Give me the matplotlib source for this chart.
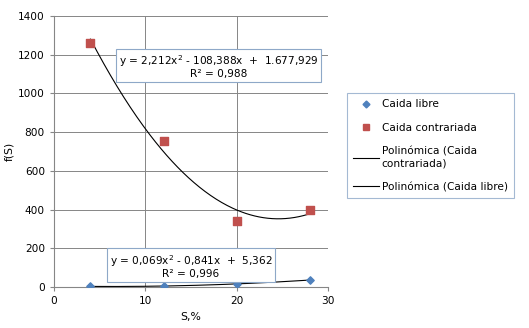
import numpy as np
import matplotlib
matplotlib.use('Agg')
import matplotlib.pyplot as plt
from matplotlib.lines import Line2D

# datos
s = [4, 12, 20, 28]
caida_libre = [3, 5, 16, 36]
caida_contrariada = [1262, 755, 342, 397]
eq_libre = 'y = 0,069x$^{2}$ - 0,841x  +  5,362\nR² = 0,996'
eq_contrariada = 'y = 2,212x$^{2}$ - 108,388x  +  1.677,929\nR² = 0,988'

azul = '#4F81BD'
rojo = '#C0504D'
gris = '#868686'

plt.rcParams['font.family'] = ['DejaVu Sans']
plt.rcParams['font.size'] = 7.6

fig = plt.figure(figsize=(5.29, 3.28), dpi=100)
ax = fig.add_axes([0.102, 0.125, 0.518, 0.826])

# líneas de tendencia polinómicas (grado 2)
xs = np.linspace(min(s), max(s), 200)
p_c = np.polyfit(s, caida_contrariada, 2)
p_l = np.polyfit(s, caida_libre, 2)
ax.plot(xs, np.polyval(p_c, xs), color='black', lw=0.8, zorder=2)
ax.plot(xs, np.polyval(p_l, xs), color='black', lw=0.8, zorder=2)

# puntos
ax.scatter(s, caida_libre, marker='D', s=14, color=azul, zorder=3)
ax.scatter(s, caida_contrariada, marker='s', s=38, color=rojo, zorder=3)

ax.set_xlim(0, 30)
ax.set_ylim(0, 1400)
ax.set_xticks([0, 10, 20, 30])
ax.set_yticks(range(0, 1401, 200))
ax.grid(True, color=gris, lw=0.7)
ax.set_axisbelow(True)
for sp in ['top', 'right']:
    ax.spines[sp].set_visible(False)
for sp in ['left', 'bottom']:
    ax.spines[sp].set_color(gris)
ax.tick_params(length=3, color=gris, labelsize=7.6)
ax.set_xlabel('S,%', fontsize=7.8, labelpad=4)
ax.set_ylabel('f(S)', fontsize=7.8, labelpad=3)

# ecuaciones
caja = dict(boxstyle='square,pad=0.25', fc='white', ec='#8EA8C8', lw=0.8)
ax.text(18.0, 1140, eq_contrariada, ha='center', va='center', fontsize=7.6,
        linespacing=1.05, bbox=caja, zorder=4)
ax.text(15.0, 108, eq_libre, ha='center', va='center', fontsize=7.6,
        linespacing=1.05, bbox=caja, zorder=4)

# leyenda
handles = [
    Line2D([], [], ls='none', marker='D', ms=3.5, color=azul),
    Line2D([], [], ls='none', marker='s', ms=5, color=rojo),
    Line2D([], [], color='black', lw=0.8),
    Line2D([], [], color='black', lw=0.8),
]
labels = ['Caida libre', 'Caida contrariada',
          'Polinómica (Caida\ncontrariada)', 'Polinómica (Caida libre)']
leg = fig.legend(handles, labels, loc='upper left',
                 bbox_to_anchor=(347 / 529, 1 - 93 / 328), fontsize=7.6,
                 frameon=True, fancybox=False, edgecolor='#8EA8C8',
                 labelspacing=1.3, handlelength=2.4, handletextpad=0.3,
                 borderpad=0.6, borderaxespad=0)
leg.get_frame().set_linewidth(0.8)

fig.savefig('out.png', dpi=100)
